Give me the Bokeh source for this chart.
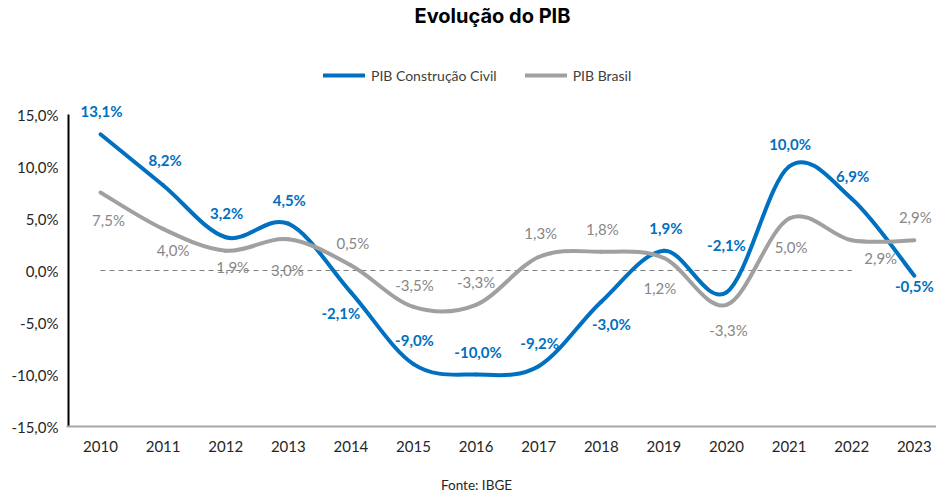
import numpy as np
from bokeh.plotting import figure
from bokeh.layouts import column
from bokeh.core.properties import value
from bokeh.models import (ColumnDataSource, FixedTicker, CustomJSTickFormatter, Label,
                          LabelSet, Legend, LegendItem, Range1d)
from bokeh.embed import file_html
from bokeh.resources import INLINE

# ---------------- data ----------------
years = [2010, 2011, 2012, 2013, 2014, 2015, 2016, 2017, 2018, 2019, 2020, 2021, 2022, 2023]
construcao = [13.1, 8.2, 3.2, 4.5, -2.1, -9.0, -10.0, -9.2, -3.0, 1.9, -2.1, 10.0, 6.9, -0.5]
brasil = [7.5, 4.0, 1.9, 3.0, 0.5, -3.5, -3.3, 1.3, 1.8, 1.2, -3.3, 5.0, 2.9, 2.9]
zero_years = [2010, 2011, 2012, 2013, 2014, 2015, 2016, 2017, 2018, 2019, 2020, 2021, 2022]
zero_values = [0, 0, 0, 0, 0, 0, 0, 0, 0, 0, 0, 0, 0]
construcao_labels = ["13,1%", "8,2%", "3,2%", "4,5%", "-2,1%", "-9,0%", "-10,0%", "-9,2%",
                     "-3,0%", "1,9%", "-2,1%", "10,0%", "6,9%", "-0,5%"]
brasil_labels = ["7,5%", "4,0%", "1,9%", "3,0%", "0,5%", "-3,5%", "-3,3%", "1,3%",
                 "1,8%", "1,2%", "-3,3%", "5,0%", "2,9%", "2,9%"]
y_ticks = [-15, -10, -5, 0, 5, 10, 15]
y_tick_labels = ["-15,0%", "-10,0%", "-5,0%", "0,0%", "5,0%", "10,0%", "15,0%"]

# label placement (screen px; dx right, dy down)
construcao_dx = [1, 2, 1, 1, -10, 1, 2, 1, 10, 2, 0, 1, 1, 0]
construcao_dy = [-23, -25, -24, -24, 21, -24, -23, -23, 22, -23, -47, -23, -23, 10]
brasil_dx = [8, 10, 7, -1, 2, 1, 0, 2, 1, -4, 2, 2, 29, 1]
brasil_dy = [27, 21, 16, 31, -22, -22, -23, -24, -23, 30, 25, 28, 18, -23]

BLUE = "#0070C0"
GRAY_LINE = "#A0A0A0"
GRAY_TEXT = "#878787"
FONT = "Lato"

# layout (pixels)
W = 936
H_MAIN = 476
H_NOTE = 17
PX_PER_YEAR = 62.6
PX_PER_PCT = 10.4
FRAME_LEFT = 66
FRAME_W = W - FRAME_LEFT
FRAME_BOTTOM = 426
x_lo = 2010 - 34 / PX_PER_YEAR
x_hi = x_lo + FRAME_W / PX_PER_YEAR
y_lo = y_ticks[0]
y_hi = y_lo + FRAME_BOTTOM / PX_PER_PCT


def smooth_segments(xs, ys):
    """Cubic Bezier segments (Excel-style smoothed line) through the data points."""
    x = np.asarray(xs, float)
    y = np.asarray(ys, float)
    n = len(x)
    xp = np.concatenate([[x[0]], x, [x[-1]]])
    yp = np.concatenate([[y[0]], y, [y[-1]]])
    return dict(
        x0=x[:-1], y0=y[:-1], x1=x[1:], y1=y[1:],
        cx0=x[:-1] + (xp[2:n + 1] - xp[0:n - 1]) / 6.0,
        cy0=y[:-1] + (yp[2:n + 1] - yp[0:n - 1]) / 6.0,
        cx1=x[1:] - (xp[3:n + 2] - xp[1:n]) / 6.0,
        cy1=y[1:] - (yp[3:n + 2] - yp[1:n]) / 6.0,
    )


p = figure(width=W, height=H_MAIN,
           x_range=Range1d(x_lo, x_hi), y_range=Range1d(y_lo, y_hi),
           output_backend="svg", toolbar_location=None,
           min_border_left=FRAME_LEFT, min_border_right=0, min_border_top=0,
           min_border_bottom=H_MAIN - FRAME_BOTTOM)
p.outline_line_color = None
p.xgrid.visible = False
p.ygrid.visible = False
p.background_fill_color = "white"
p.border_fill_color = "white"

# x axis
p.xaxis.ticker = FixedTicker(ticks=years)
p.xaxis.formatter = CustomJSTickFormatter(code="return String(tick);")
p.xaxis.axis_line_color = "#A6A6A6"
p.xaxis.axis_line_width = 2
p.xaxis.major_tick_line_color = None
p.xaxis.minor_tick_line_color = None
p.xaxis.major_label_standoff = 8
p.xaxis.major_label_text_font = FONT
p.xaxis.major_label_text_font_size = "15px"
p.xaxis.major_label_text_color = "#262626"

# y axis (its line is drawn only over the tick span, below)
p.yaxis.ticker = FixedTicker(ticks=y_ticks)
p.yaxis.formatter = CustomJSTickFormatter(args=dict(tick_vals=y_ticks, tick_texts=y_tick_labels),
                                          code="const i = tick_vals.indexOf(tick); return i >= 0 ? tick_texts[i] : '';")
p.yaxis.axis_line_color = None
p.yaxis.major_tick_line_color = None
p.yaxis.minor_tick_line_color = None
p.yaxis.major_label_standoff = 2
p.yaxis.major_label_text_font = FONT
p.yaxis.major_label_text_font_size = "15px"
p.yaxis.major_label_text_color = "#262626"

axis_x = x_lo + 2 / PX_PER_YEAR
p.segment(x0=[axis_x], y0=[y_ticks[0]], x1=[axis_x], y1=[y_ticks[-1]],
          line_color="black", line_width=2)

# zero reference (dashed)
p.line(zero_years, zero_values, line_color="#7F7F7F", line_width=1, line_dash="5 4")

# smoothed series
blue_r = p.bezier(source=ColumnDataSource(smooth_segments(years, construcao)),
                  x0="x0", y0="y0", x1="x1", y1="y1", cx0="cx0", cy0="cy0", cx1="cx1", cy1="cy1",
                  line_color=BLUE, line_width=4, line_cap="round")
gray_r = p.bezier(source=ColumnDataSource(smooth_segments(years, brasil)),
                  x0="x0", y0="y0", x1="x1", y1="y1", cx0="cx0", cy0="cy0", cx1="cx1", cy1="cy1",
                  line_color=GRAY_LINE, line_width=4, line_cap="round")

# data labels
src_c = ColumnDataSource(dict(x=years, y=construcao, text=construcao_labels,
                              xo=construcao_dx, yo=[-d for d in construcao_dy]))
src_b = ColumnDataSource(dict(x=years, y=brasil, text=brasil_labels,
                              xo=brasil_dx, yo=[-d for d in brasil_dy]))
p.add_layout(LabelSet(x="x", y="y", text="text", x_offset="xo", y_offset="yo", source=src_c,
                      text_align="center", text_baseline="middle", text_font=value(FONT),
                      text_font_style="bold", text_font_size="15px", text_color=BLUE))
p.add_layout(LabelSet(x="x", y="y", text="text", x_offset="xo", y_offset="yo", source=src_b,
                      text_align="center", text_baseline="middle", text_font=value(FONT),
                      text_font_size="15px", text_color=GRAY_TEXT))

# legend
legend = Legend(items=[LegendItem(label="PIB Construção Civil", renderers=[blue_r]),
                       LegendItem(label="PIB Brasil", renderers=[gray_r])],
                orientation="horizontal", location=(323 - FRAME_LEFT, FRAME_BOTTOM - 85),
                glyph_width=42, glyph_height=20, label_standoff=6, spacing=28,
                padding=0, margin=0, border_line_color=None, background_fill_alpha=0,
                label_text_font=FONT, label_text_font_size="14px", label_text_color="#404040")
p.add_layout(legend)

# title
p.add_layout(Label(x=492 - FRAME_LEFT, y=FRAME_BOTTOM - 15, x_units="screen", y_units="screen",
                   text="Evolução do PIB",
                   text_font="Inter", text_font_style="bold", text_font_size="20px",
                   text_align="center", text_baseline="middle", text_color="black"))

# source note (own strip below the chart; its frame is aligned with the chart's frame)
note = figure(width=W, height=H_NOTE, x_range=Range1d(0, 1), y_range=Range1d(0, 1),
              output_backend="svg", toolbar_location=None, min_border=0)
note.axis.visible = False
note.grid.visible = False
note.outline_line_color = None
note.add_layout(Label(x=476 - FRAME_LEFT, y=H_NOTE / 2, x_units="screen", y_units="screen",
                      text="Fonte: IBGE", text_font=FONT, text_font_size="13.5px",
                      text_align="center", text_baseline="middle", text_color="#262626"))

layout = column(p, note, spacing=0)
open("out.html", "w").write(file_html(layout, INLINE))
